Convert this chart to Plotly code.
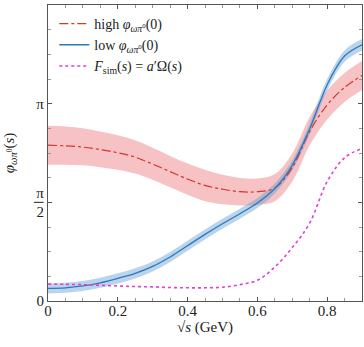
import numpy as np
import plotly.graph_objects as go

# sqrt(s) grid (GeV)
x = [0, 0.05, 0.1, 0.15, 0.2, 0.25, 0.3, 0.35, 0.4, 0.45, 0.5, 0.55, 0.6, 0.65, 0.7, 0.75, 0.8, 0.85, 0.9]

# high phi(0): central value and band
high_mid = [2.48, 2.47, 2.45, 2.41, 2.36, 2.29, 2.18, 2.06, 1.94, 1.84, 1.78, 1.74, 1.74, 1.80, 2.12, 2.70, 3.12, 3.40, 3.59]
high_lo = [2.17, 2.17, 2.16, 2.13, 2.09, 2.03, 1.93, 1.81, 1.69, 1.59, 1.54, 1.52, 1.53, 1.59, 1.90, 2.48, 2.89, 3.17, 3.36]
high_hi = [2.79, 2.78, 2.75, 2.70, 2.64, 2.56, 2.44, 2.31, 2.19, 2.09, 2.01, 1.96, 1.95, 2.02, 2.35, 2.93, 3.35, 3.63, 3.82]

# low phi(0): central value and band
low_mid = [0.20, 0.21, 0.24, 0.29, 0.36, 0.44, 0.55, 0.70, 0.88, 1.06, 1.23, 1.39, 1.56, 1.79, 2.16, 2.74, 3.44, 3.90, 4.08]
low_lo = [0.12, 0.13, 0.16, 0.21, 0.28, 0.36, 0.47, 0.62, 0.80, 0.98, 1.15, 1.31, 1.48, 1.71, 2.08, 2.65, 3.35, 3.81, 3.99]
low_hi = [0.28, 0.29, 0.32, 0.37, 0.44, 0.52, 0.63, 0.78, 0.96, 1.14, 1.31, 1.47, 1.64, 1.87, 2.24, 2.83, 3.53, 3.99, 4.17]

# F_sim(s) = a' Omega(s)
fsim = [0.27, 0.265, 0.26, 0.25, 0.24, 0.23, 0.225, 0.215, 0.21, 0.21, 0.22, 0.26, 0.33, 0.54, 0.85, 1.24, 1.90, 2.28, 2.43]

serif = "Liberation Serif"
axcol = "#555555"
phi_sub = "<i>φ</i><sub><i>ωπ</i><sup>0</sup></sub>"

fig = go.Figure()

# bands
fig.add_trace(go.Scatter(x=x, y=high_lo, mode="lines", line=dict(width=0, shape="spline"),
                         showlegend=False, hoverinfo="skip"))
fig.add_trace(go.Scatter(x=x, y=high_hi, mode="lines", line=dict(width=0, shape="spline"),
                         fill="tonexty", fillcolor="rgba(232,95,100,0.38)", showlegend=False, hoverinfo="skip"))
fig.add_trace(go.Scatter(x=x, y=low_lo, mode="lines", line=dict(width=0, shape="spline"),
                         showlegend=False, hoverinfo="skip"))
fig.add_trace(go.Scatter(x=x, y=low_hi, mode="lines", line=dict(width=0, shape="spline"),
                         fill="tonexty", fillcolor="rgba(100,160,210,0.45)", showlegend=False, hoverinfo="skip"))

# curves
fig.add_trace(go.Scatter(x=x, y=high_mid, mode="lines", name="high " + phi_sub + "(0)",
                         line=dict(color="#d9342b", width=1.2, dash="dashdot", shape="spline")))
fig.add_trace(go.Scatter(x=x, y=low_mid, mode="lines", name="low " + phi_sub + "(0)",
                         line=dict(color="#2f78bd", width=1.3, shape="spline")))
fig.add_trace(go.Scatter(x=x, y=fsim, mode="lines", name="<i>F</i><sub>sim</sub>(<i>s</i>) = <i>a</i>′Ω(<i>s</i>)",
                         line=dict(color="#e23fd2", width=1.6, dash="dot", shape="spline")))

fig.update_layout(
    width=364, height=347,
    margin=dict(l=48, r=2, t=5, b=46, autoexpand=False),
    paper_bgcolor="white", plot_bgcolor="white",
    font=dict(family=serif, size=15, color="#222222"),
    showlegend=True,
    legend=dict(x=0.02, y=0.99, xanchor="left", yanchor="top", bgcolor="rgba(0,0,0,0)",
                borderwidth=0, font=dict(size=14), tracegroupgap=0, itemwidth=30,
                traceorder="normal"),
)

# fraction bar for the pi/2 tick label
fig.add_shape(type="line", xref="paper", yref="y", x0=-0.045, x1=-0.014,
              y0=np.pi / 2, y1=np.pi / 2, line=dict(color="#222222", width=1))

fig.update_xaxes(
    range=[0, 0.9], showgrid=False, zeroline=False, automargin=False,
    showline=True, linecolor=axcol, linewidth=1.2, mirror="allticks",
    tickvals=[0, 0.2, 0.4, 0.6, 0.8], ticktext=["0", "0.2", "0.4", "0.6", "0.8"],
    ticks="inside", ticklen=4, tickcolor=axcol, ticklabelstandoff=-4,
    minor=dict(dtick=0.05, tick0=0, ticks="inside", ticklen=3, tickcolor="#999999"),
    tickfont=dict(size=15),
    title=dict(text="√<i>s</i> (GeV)", font=dict(size=15), standoff=2),
)

fig.update_yaxes(
    range=[0, 1.5 * np.pi], showgrid=False, zeroline=False, automargin=False,
    showline=True, linecolor=axcol, linewidth=1.2, mirror="allticks",
    tickvals=[0, np.pi / 2, np.pi], ticktext=["0", "π<br>2", "π"],
    ticks="inside", ticklen=4, tickcolor=axcol,
    minor=dict(dtick=np.pi / 8, tick0=0, ticks="inside", ticklen=3, tickcolor="#999999"),
    tickfont=dict(size=15),
    title=dict(text=phi_sub + "(<i>s</i>)", font=dict(size=15), standoff=18),
)

fig.write_html("out.html", config={"displayModeBar": False},
               post_script="document.body.style.margin='0';")
